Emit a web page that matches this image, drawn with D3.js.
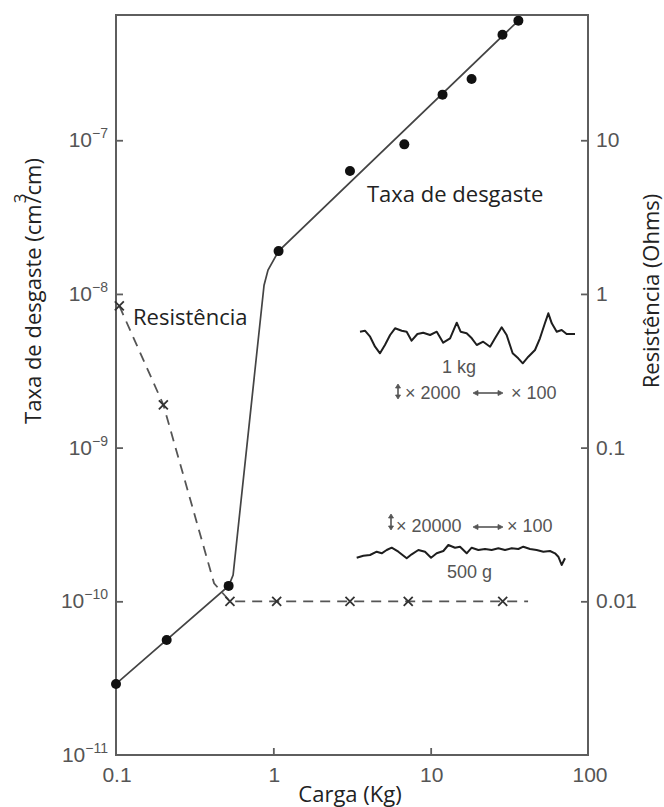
<!DOCTYPE html>
<html>
<head>
<meta charset="utf-8">
<script src="https://cdn.jsdelivr.net/npm/d3@7"></script>
<style>
  html, body { margin: 0; padding: 0; background: #fff; }
  svg { display: block; }
</style>
</head>
<body>
<script>
// Wear rate vs. load, with contact resistance on a second axis.
const loadWear = [0.1, 0.21, 0.52, 1.08, 3.07, 6.8, 11.9, 18.2, 28.6, 36.1];
const wearRate = [2.9e-11, 5.6e-11, 1.26e-10, 1.9e-8, 6.3e-8, 9.4e-8, 1.98e-7, 2.5e-7, 4.86e-7, 6.0e-7];

// Fitted wear-rate curve
const fitLoad = [0.1, 0.52, 0.555, 0.873, 0.925, 1.08, 36.1];
const fitWear = [2.9e-11, 1.26e-10, 1.48e-10, 1.14e-8, 1.43e-8, 1.9e-8, 6.0e-7];

// Contact resistance (Ohms)
const resLoad = [0.105, 0.2, 0.53, 1.05, 3.07, 7.2, 28.7];
const resOhm = [0.835, 0.19, 0.01, 0.01, 0.01, 0.01, 0.01];
const resLineLoad = [0.105, 0.2, 0.42, 0.53, 1.05, 3.07, 7.2, 28.7, 41.6];
const resLineOhm = [0.835, 0.19, 0.0131, 0.01, 0.01, 0.01, 0.01, 0.01, 0.01];

// Axis ticks
const xTicks = [0.1, 1, 10, 100];
const xTickLabels = ["0.1", "1", "10", "100"];
const yTicks = [1e-7, 1e-8, 1e-9, 1e-10, 1e-11];
const yTickExp = ["\u22127", "\u22128", "\u22129", "\u221210", "\u221211"];
const rTicks = [10, 1, 0.1, 0.01];
const rTickLabels = ["10", "1", "0.1", "0.01"];

// Surface profile traces: [position along trace, height]
const profile1kg = [[0,1.3],[2.3,2.3],[4.7,-3.7],[7,-13.7],[9.3,-20.3],[11.6,-12],[14,-2],[16.3,4.7],[19.4,2.3],[21.7,1.3],[24,-7.7],[26.7,-1],[29.4,0.3],[32.6,-2],[35.7,1.3],[38.7,-9.7],[41.9,-5.3],[45,10.3],[46.8,1.3],[49.6,-0.3],[52,-5.3],[54.3,-12],[57.3,-8.7],[60.5,-13.7],[62.8,-5.3],[65.9,5.7],[68.2,-2],[71,-20.3],[73.6,-25.3],[75.7,-30.3],[78.3,-23.7],[81.4,-17],[83.7,-5.3],[86,9.7],[87.6,19.7],[89.2,9.7],[91.5,1.3],[93.8,3],[96.1,-1],[100,-1]];
const profile500g = [[0,-5.7],[3.2,-3.7],[6.4,-3],[9.6,0.3],[12,-1.3],[14.4,2],[16.8,4.3],[20,0.3],[24,-6.3],[26.4,-2.3],[29.6,2],[32.8,0.3],[35.7,-5.7],[38.4,-1.3],[41.6,1],[44,7],[47.2,4.3],[49.6,5.3],[52.8,-1.3],[55.2,4.3],[58.4,2],[61.6,3],[64.8,2],[68,3.7],[71.2,2],[74.4,3.7],[77.6,3],[80,5.3],[83.2,3],[86.4,2],[89.6,0.3],[92.8,1],[95.2,-1.3],[96.8,-4.7],[98.4,-13],[100,-6.3]];

const W = 664, H = 807;
const plot = { left: 116, right: 588, top: 15, bottom: 755 };

const svg = d3.select("body").append("svg").attr("width", W).attr("height", H);
svg.append("rect").attr("width", W).attr("height", H).attr("fill", "#fff");

const x = d3.scaleLog().domain([0.1, 100]).range([plot.left, plot.right]);
const y = d3.scaleLog().domain([1e-11, 6.53e-7]).range([plot.bottom, plot.top]);
const yR = d3.scaleLog().domain([1e-3, 65.3]).range([plot.bottom, plot.top]);

const tickFont = "'Liberation Sans', Arial, Helvetica, sans-serif";
const labelFont = "'Open Sans', 'Noto Sans', sans-serif";
const frameColor = "#5e5e5e";

// Inward tick marks via d3 axes
const axB = svg.append("g").attr("transform", `translate(0,${plot.bottom})`)
  .call(d3.axisBottom(x).tickValues([1, 10]).tickSize(-7).tickFormat(() => ""));
const axL = svg.append("g").attr("transform", `translate(${plot.left},0)`)
  .call(d3.axisLeft(y).tickValues([1e-7, 1e-8, 1e-9, 1e-10]).tickSize(-7).tickFormat(() => ""));
const axR = svg.append("g").attr("transform", `translate(${plot.right},0)`)
  .call(d3.axisRight(yR).tickValues(rTicks).tickSize(-7).tickFormat(() => ""));
[axB, axL, axR].forEach(g => {
  g.select(".domain").remove();
  g.selectAll(".tick line").attr("stroke", frameColor).attr("stroke-width", 1.8);
});

// Frame
svg.append("rect")
  .attr("x", plot.left).attr("y", plot.top)
  .attr("width", plot.right - plot.left).attr("height", plot.bottom - plot.top)
  .attr("fill", "none").attr("stroke", frameColor).attr("stroke-width", 2);

// Bottom tick labels
svg.append("g").selectAll("text").data(xTicks).join("text")
  .attr("x", (d, i) => x(d) + (i === 3 ? 2 : 1))
  .attr("y", 782)
  .attr("text-anchor", "middle")
  .attr("font-family", tickFont).attr("font-size", 21).attr("fill", "#555")
  .text((d, i) => xTickLabels[i]);

// Left tick labels (powers of ten)
const lt = svg.append("g").selectAll("text").data(yTicks).join("text")
  .attr("x", 108)
  .attr("y", d => y(d) + 7)
  .attr("text-anchor", "end")
  .attr("font-family", tickFont).attr("font-size", 21).attr("fill", "#555");
lt.append("tspan").text("10");
lt.append("tspan").attr("dy", -9).attr("font-size", 14).text((d, i) => yTickExp[i]);

// Right tick labels
svg.append("g").selectAll("text").data(rTicks).join("text")
  .attr("x", 596)
  .attr("y", d => yR(d) + 7)
  .attr("font-family", tickFont).attr("font-size", 21).attr("fill", "#555")
  .text((d, i) => rTickLabels[i]);

// Axis titles
svg.append("text")
  .attr("x", 350).attr("y", 802)
  .attr("text-anchor", "middle")
  .attr("font-family", labelFont).attr("font-size", 22).attr("fill", "#222")
  .text("Carga (Kg)");

const leftTitle = svg.append("text")
  .attr("transform", "translate(41,291) rotate(-90)")
  .attr("text-anchor", "middle")
  .attr("font-family", labelFont).attr("font-size", 22).attr("fill", "#222");
leftTitle.append("tspan").text("Taxa de desgaste (cm");
leftTitle.append("tspan").attr("dy", -15).attr("dx", 1).attr("font-size", 17).text("3");
leftTitle.append("tspan").attr("dy", 15).attr("dx", -10).text("/cm)");

svg.append("text")
  .attr("transform", "translate(659,291) rotate(-90)")
  .attr("text-anchor", "middle")
  .attr("font-family", labelFont).attr("font-size", 22).attr("fill", "#222")
  .text("Resistência (Ohms)");

// Resistance: dashed polyline with cross markers
const resLine = d3.line()
  .x((d, i) => x(resLineLoad[i]))
  .y((d, i) => yR(resLineOhm[i]));
svg.append("path")
  .attr("d", resLine(resLineLoad))
  .attr("fill", "none").attr("stroke", "#555").attr("stroke-width", 1.8)
  .attr("stroke-dasharray", "10,7");

svg.append("g").selectAll("path").data(resLoad).join("path")
  .attr("transform", (d, i) => `translate(${x(d)},${yR(resOhm[i])})`)
  .attr("d", "M-4.5,-4.5L4.5,4.5M-4.5,4.5L4.5,-4.5")
  .attr("stroke", "#333").attr("stroke-width", 1.8).attr("fill", "none");

// Wear rate: fitted curve and measured points
const fitLine = d3.line()
  .x((d, i) => x(fitLoad[i]))
  .y((d, i) => y(fitWear[i]));
svg.append("path")
  .attr("d", fitLine(fitLoad))
  .attr("fill", "none").attr("stroke", "#444").attr("stroke-width", 1.7);

svg.append("g").selectAll("circle").data(loadWear).join("circle")
  .attr("cx", d => x(d))
  .attr("cy", (d, i) => y(wearRate[i]))
  .attr("r", 5)
  .attr("fill", "#111");

// Series labels
svg.append("text")
  .attr("x", 367).attr("y", 202)
  .attr("font-family", labelFont).attr("font-size", 22).attr("fill", "#222")
  .text("Taxa de desgaste");
svg.append("text")
  .attr("x", 133).attr("y", 325)
  .attr("font-family", labelFont).attr("font-size", 22).attr("fill", "#222")
  .text("Resistência");

// Surface profile insets
function drawProfile(data, x0, x1, yBase) {
  const px = d3.scaleLinear().domain([0, 100]).range([x0, x1]);
  const py = d3.scaleLinear().domain([0, 1]).range([yBase, yBase - 1]);
  svg.append("path")
    .attr("d", d3.line().x(d => px(d[0])).y(d => py(d[1]))(data))
    .attr("fill", "none").attr("stroke", "#1e1e1e").attr("stroke-width", 2)
    .attr("stroke-linejoin", "round");
}
drawProfile(profile1kg, 360, 575, 333);
drawProfile(profile500g, 356.7, 565, 552);

const insetFont = { family: tickFont, size: 18, fill: "#555" };
function insetText(tx, ty, str) {
  svg.append("text").attr("x", tx).attr("y", ty)
    .attr("font-family", insetFont.family).attr("font-size", insetFont.size)
    .attr("fill", insetFont.fill).text(str);
}
function vArrow(cx, y0, y1) {
  const g = svg.append("g").attr("stroke", "#555").attr("fill", "#555");
  g.append("line").attr("x1", cx).attr("x2", cx).attr("y1", y0 + 3).attr("y2", y1 - 3).attr("stroke-width", 1.6);
  g.append("path").attr("d", `M${cx - 2.5},${y0 + 4}L${cx},${y0}L${cx + 2.5},${y0 + 4}Z`).attr("stroke-width", 0.8);
  g.append("path").attr("d", `M${cx - 2.5},${y1 - 4}L${cx},${y1}L${cx + 2.5},${y1 - 4}Z`).attr("stroke-width", 0.8);
}
function hArrow(x0, x1, cy) {
  const g = svg.append("g").attr("stroke", "#555").attr("fill", "#555");
  g.append("line").attr("x1", x0 + 4).attr("x2", x1 - 4).attr("y1", cy).attr("y2", cy).attr("stroke-width", 1.6);
  g.append("path").attr("d", `M${x0 + 5},${cy - 2.5}L${x0},${cy}L${x0 + 5},${cy + 2.5}Z`).attr("stroke-width", 0.8);
  g.append("path").attr("d", `M${x1 - 5},${cy - 2.5}L${x1},${cy}L${x1 - 5},${cy + 2.5}Z`).attr("stroke-width", 0.8);
}

insetText(442, 373, "1 kg");
vArrow(398, 384, 399);
insetText(405, 399, "× 2000");
hArrow(473, 503, 393);
insetText(511, 399, "× 100");

vArrow(391, 514, 530);
insetText(396, 532, "× 20000");
hArrow(473, 503, 527);
insetText(507, 532, "× 100");
insetText(447, 578, "500 g");
</script>
</body>
</html>
